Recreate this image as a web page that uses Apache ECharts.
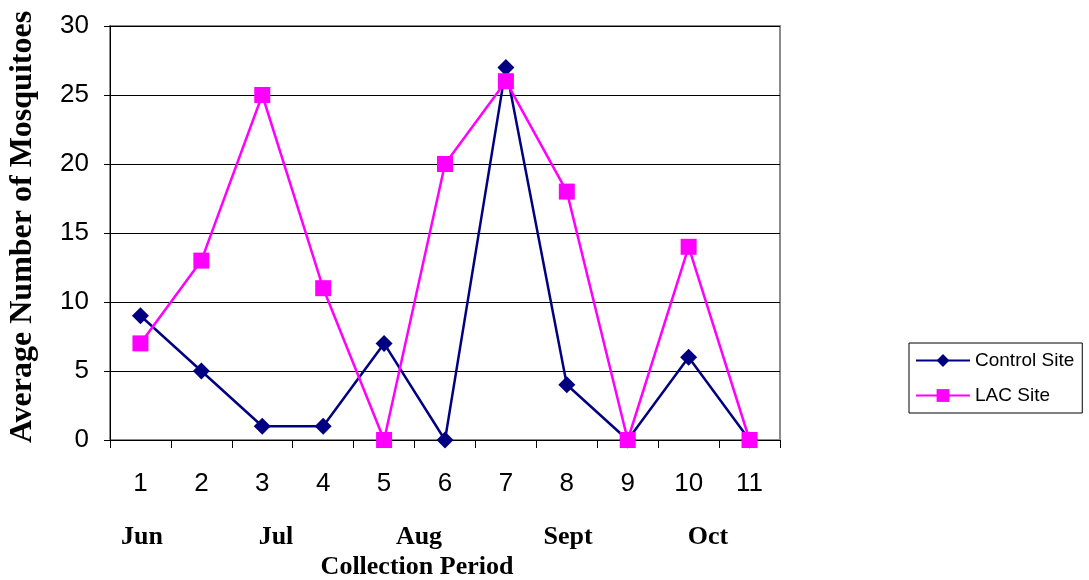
<!DOCTYPE html>
<html><head><meta charset="utf-8">
<script src="https://cdn.jsdelivr.net/npm/echarts@6/dist/echarts.min.js"></script>
<style>html,body{margin:0;padding:0;background:#fff}#c{width:1089px;height:580px}</style>
</head><body><div id="c"></div>
<script>
var categories = ['1','2','3','4','5','6','7','8','9','10','11'];
var controlSite = [9,5,1,1,7,0,27,4,0,6,0];
var lacSite = [7,13,25,11,0,20,26,18,0,14,0];
var yTicks = {min:0, max:30, interval:5};
var months = [{name:'Jun', x:142},{name:'Jul', x:276},{name:'Aug', x:419},{name:'Sept', x:568},{name:'Oct', x:708}];

var serif = '"Liberation Serif", "Times New Roman", serif';
var sans = '"Liberation Sans", Arial, sans-serif';
var chart = echarts.init(document.getElementById('c'), null, {renderer:'canvas'});
var graphics = months.map(function(m){
  return {type:'text', x:m.x, y:537, style:{text:m.name, font:'bold 26px ' + serif, fill:'#000', textAlign:'center', textVerticalAlign:'middle'}};
});
graphics.push({type:'text', x:417, y:567, style:{text:'Collection Period', font:'bold 26px ' + serif, fill:'#000', textAlign:'center', textVerticalAlign:'middle'}});
graphics.push({type:'text', x:23, y:227, rotation:Math.PI/2, style:{text:'Average Number of Mosquitoes', font:'bold 32px ' + serif, fill:'#000', textAlign:'center', textVerticalAlign:'middle'}});
chart.setOption({
  animation:false,
  backgroundColor:'#fff',
  grid:{left:110, top:26, width:670, height:414, show:true, borderColor:'#8c8c8c', borderWidth:2, containLabel:false},
  xAxis:{type:'category', data:categories, boundaryGap:true,
    axisLine:{lineStyle:{color:'#000', width:1}},
    axisTick:{show:true, length:8, lineStyle:{color:'#000'}},
    axisLabel:{margin:31, color:'#000', fontSize:26, fontFamily:sans},
    splitLine:{show:false}},
  yAxis:{type:'value', min:yTicks.min, max:yTicks.max, interval:yTicks.interval,
    axisLine:{show:true, lineStyle:{color:'#000'}},
    axisTick:{show:true, length:6, lineStyle:{color:'#000'}},
    axisLabel:{margin:21, color:'#000', fontSize:26, fontFamily:sans},
    splitLine:{show:true, lineStyle:{color:'#000', width:1}}},
  legend:{left:909, top:343, orient:'vertical', itemGap:16, padding:[8,8,8,6],
    borderColor:'#000', borderWidth:1, itemWidth:54, itemHeight:16,
    textStyle:{fontSize:19, color:'#000', fontFamily:sans},
    data:['Control Site','LAC Site']},
  graphic:graphics,
  series:[
    {name:'Control Site', type:'line', data:controlSite, symbol:'diamond', symbolSize:17,
      lineStyle:{color:'#000080', width:2.5}, itemStyle:{color:'#000080'}, z:3},
    {name:'LAC Site', type:'line', data:lacSite, symbol:'rect', symbolSize:16,
      lineStyle:{color:'#ff00ff', width:2.5}, itemStyle:{color:'#ff00ff'}, z:4}
  ]
});
</script></body></html>
